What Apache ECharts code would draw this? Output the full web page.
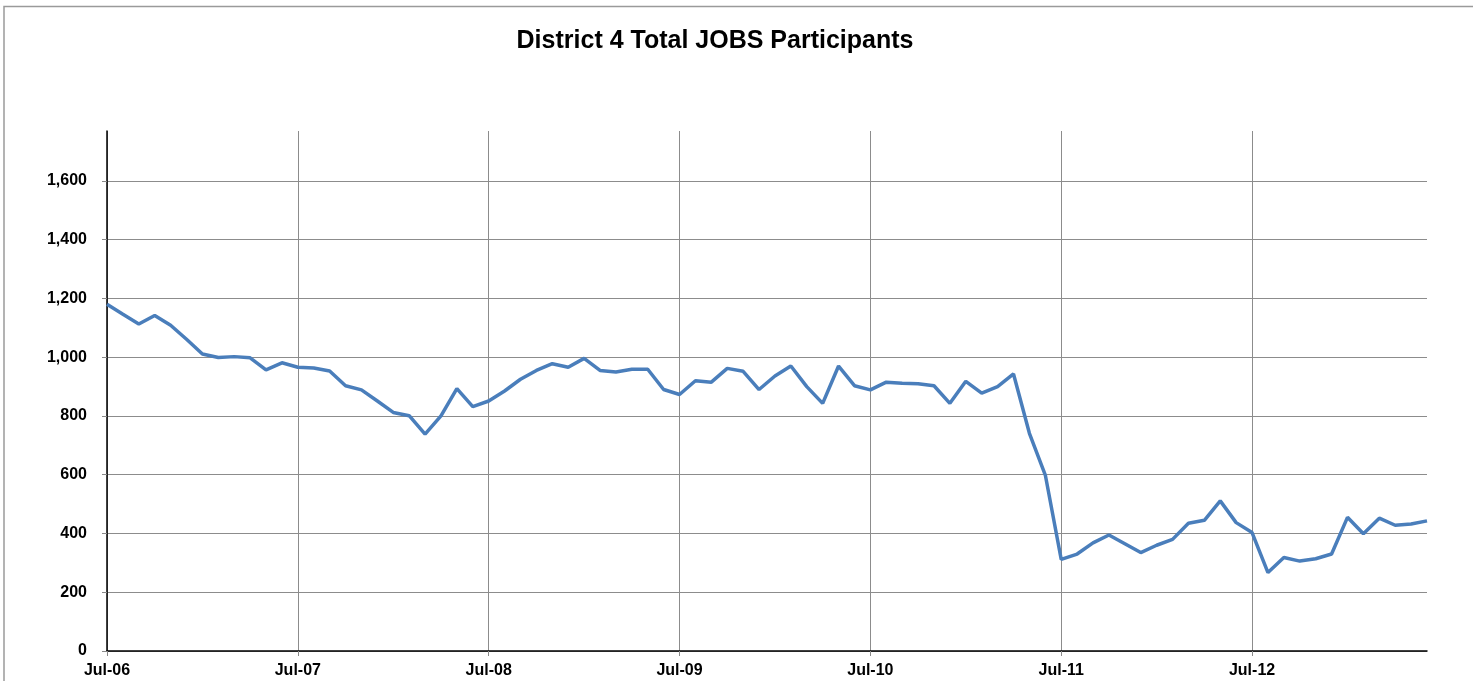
<!DOCTYPE html>
<html>
<head>
<meta charset="utf-8">
<script src="https://cdn.jsdelivr.net/npm/echarts@6/dist/echarts.min.js"></script>
<style>
  html, body { margin: 0; padding: 0; background: #fff; }
  #main { width: 1473px; height: 682px; }
</style>
</head>
<body>
<div id="main"></div>
<script>
// month labels, Jul-06 .. Jun-13
var monthNames = ['Jan', 'Feb', 'Mar', 'Apr', 'May', 'Jun', 'Jul', 'Aug', 'Sep', 'Oct', 'Nov', 'Dec'];
var categories = [];
for (var k = 0; k < 84; k++) {
    var m = (6 + k) % 12;
    var y = 6 + Math.floor((6 + k) / 12);
    categories.push(monthNames[m] + '-' + (y < 10 ? '0' + y : '' + y));
}

// total JOBS participants per month
var participants = [
    1180, 1146, 1113, 1142, 1109, 1061, 1011, 999, 1002, 998, 957, 981,
    966, 963, 953, 903, 889, 851, 812, 801, 738, 800, 893, 832,
    851, 885, 925, 955, 978, 966, 996, 955, 950, 959, 959, 890,
    873, 920, 915, 962, 952, 890, 936, 970, 900, 843, 970, 903,
    889, 915, 911, 910, 903, 843, 918, 878, 900, 943, 741, 599,
    312, 330, 368, 395, 365, 335, 360, 380, 435, 445, 511, 437,
    403, 267, 318, 306, 314, 330, 455, 399, 452, 428, 432, 443
];

var yTicks = [0, 200, 400, 600, 800, 1000, 1200, 1400, 1600];

var myChart = echarts.init(document.getElementById('main'));

var font = '"Liberation Sans", Arial, sans-serif';

var option = {
    animation: false,
    backgroundColor: '#ffffff',
    title: {
        text: 'District 4 Total JOBS Participants',
        left: 710,
        textAlign: 'center',
        top: 24,
        textStyle: {
            fontFamily: font,
            fontSize: 25,
            fontWeight: 'bold',
            color: '#000'
        }
    },
    graphic: [
        {   // chart frame, top and left edges
            type: 'polyline',
            shape: { points: [[4, 681], [4, 6.5], [1473, 6.5]] },
            style: { stroke: '#9a9a9a', lineWidth: 1.5, fill: null },
            silent: true
        }
    ],
    grid: {
        left: 107,
        right: 46,
        top: 131,
        bottom: 31,
        containLabel: false
    },
    xAxis: {
        type: 'category',
        data: categories,
        boundaryGap: false,
        axisLine: { lineStyle: { color: '#000', width: 1.5 } },
        axisTick: {
            show: true,
            interval: 11,
            length: 5,
            lineStyle: { color: '#888' }
        },
        axisLabel: {
            interval: 11,
            margin: 12,
            fontFamily: font,
            fontSize: 16,
            fontWeight: 'bold',
            color: '#000'
        },
        splitLine: {
            show: true,
            interval: 11,
            lineStyle: { color: '#8c8c8c', width: 1 }
        }
    },
    yAxis: {
        type: 'value',
        min: 0,
        max: 1770,
        interval: 200,
        axisLine: { show: true, lineStyle: { color: '#000', width: 1.5 } },
        axisTick: { show: true, inside: false, length: 5, lineStyle: { color: '#888' } },
        axisLabel: {
            margin: 20,
            showMaxLabel: false,
            fontFamily: font,
            fontSize: 16,
            fontWeight: 'bold',
            color: '#000',
            formatter: function (v) {
                return yTicks.indexOf(v) >= 0 ? echarts.format.addCommas(v) : '';
            }
        },
        splitLine: {
            show: true,
            showMaxLine: false,
            lineStyle: { color: '#8c8c8c', width: 1 }
        }
    },
    series: [
        {
            name: 'Participants',
            type: 'line',
            data: participants,
            symbol: 'none',
            smooth: false,
            lineStyle: { color: '#4a7ebb', width: 3.5 },
            itemStyle: { color: '#4a7ebb' }
        }
    ]
};

myChart.setOption(option);
</script>
</body>
</html>
